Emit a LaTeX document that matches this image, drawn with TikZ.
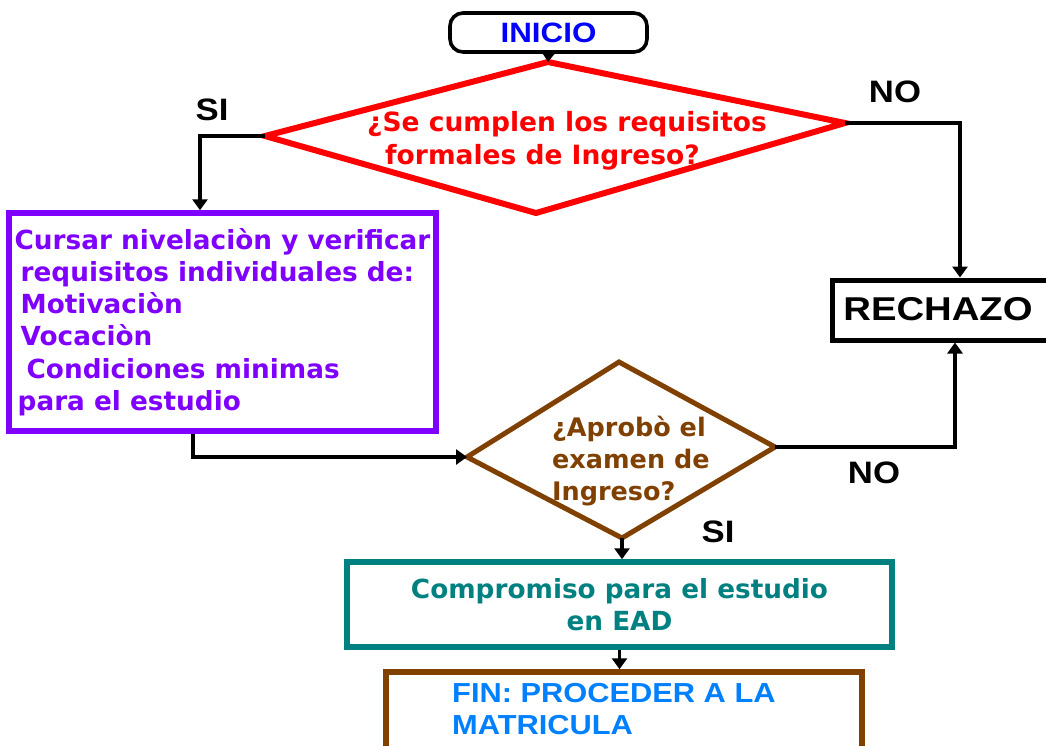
\documentclass[tikz,border=0pt]{standalone}
\usepackage{fontspec}
\setmainfont{Liberation Sans}
\newfontfamily\vfont{DejaVu Sans}
\newfontfamily\awide[FakeStretch=1.12]{Liberation Sans}
\newfontfamily\awider[FakeStretch=1.16]{Liberation Sans}
\usetikzlibrary{arrows.meta}
\definecolor{cred}{HTML}{FF0000}
\definecolor{cpurple}{HTML}{8000FF}
\definecolor{cteal}{HTML}{008080}
\definecolor{cbrown}{HTML}{804000}
\definecolor{cblue}{HTML}{0000FF}
\definecolor{clblue}{HTML}{0080FF}
\begin{document}
\begin{tikzpicture}[x=1pt,y=-1pt,
  arr/.style={line width=3.3pt,-{Triangle[width=15pt,length=11pt]}},
  lbl/.style={font=\awide\bfseries\fontsize{31}{33}\selectfont,inner sep=0pt},
  vtext/.style={font=\vfont\bfseries\fontsize{25.5}{32}\selectfont,inner sep=0pt}]
\clip (0,0) rectangle (1046,745);
\fill[white] (0,0) rectangle (1046,745);
% start
\node[draw,line width=3.6pt,rounded corners=13pt,minimum width=197pt,minimum height=39pt,
      text=cblue,font=\awide\bfseries\fontsize{28}{30}\selectfont] (inicio) at (548.5,32.5) {INICIO};
% diamond 1
\coordinate (d1t) at (548,62);
\coordinate (d1l) at (265,136);
\coordinate (d1b) at (536,213);
\coordinate (d1r) at (845,123);
\draw[cred,line width=6pt,line join=miter] (d1t) -- (d1r) -- (d1b) -- (d1l) -- cycle;
\node[vtext,text=cred,align=left,font=\vfont\bfseries\fontsize{26.5}{33}\selectfont,anchor=west] (q1) at (367,141)
  {¿Se cumplen los requisitos\\\hspace*{18pt}formales de Ingreso?};
% purple box
\node[draw=cpurple,line width=5.5pt,minimum width=427pt,minimum height=218pt,inner xsep=0pt,
      align=left,text=cpurple,font=\vfont\bfseries\fontsize{26.3}{32.3}\selectfont]
  (nivel) at (222.5,322)
  {Cursar nivelaciòn y verificar\\
   \hspace*{6pt}requisitos individuales de:\\
   \hspace*{6pt}Motivaciòn\\
   \hspace*{6pt}Vocaciòn\\
   \hspace*{12pt}Condiciones minimas\\
   \hspace*{3pt}para el estudio};
% rechazo
\node[draw,line width=5pt,minimum width=240pt,minimum height=60pt] (rech) at (952,310) {};
\node[lbl,font=\awider\bfseries\fontsize{33}{35}\selectfont] (rechT) at (938,309) {RECHAZO};
% diamond 2
\coordinate (d2t) at (619,362);
\coordinate (d2l) at (467,457);
\coordinate (d2b) at (622,538);
\coordinate (d2r) at (775,447);
\draw[cbrown,line width=5pt,line join=miter] (d2t) -- (d2r) -- (d2b) -- (d2l) -- cycle;
\node[vtext,text=cbrown,align=left,anchor=west] (q2) at (552,461)
  {¿Aprobò el\\examen de\\Ingreso?};
% compromiso
\node[draw=cteal,line width=5.5pt,minimum width=545pt,minimum height=85pt,align=center,
      text=cteal,font=\vfont\bfseries\fontsize{26.3}{32}\selectfont] (comp) at (619.5,604.5)
  {Compromiso para el estudio\\en EAD};
% fin
\node[draw=cbrown,line width=5.5pt,minimum width=476pt,minimum height=100pt] (fin) at (624,722) {};
\node[anchor=west,align=left,inner sep=0pt,text=clblue,font=\awide\bfseries\fontsize{27.5}{32}\selectfont]
  (finT) at (452,709) {FIN: PROCEDER A LA\\MATRICULA};
% labels
\node[lbl] (si1) at (212,110) {SI};
\node[lbl] (no1) at (895,92) {NO};
\node[lbl] (no2) at (874,473) {NO};
\node[lbl] (si2) at (718,532) {SI};
% connectors
\draw[arr] (inicio.south) -- (d1t);
\draw[arr] (d1l) -| ([xshift=-22.5pt]nivel.north);
\draw[arr] (d1r) -| ([xshift=8pt]rech.north);
\draw[arr] ([xshift=-29.5pt]nivel.south) |- (d2l);
\draw[arr] (d2r) -| ([xshift=3pt]rech.south);
\draw[arr] (d2b) -- (d2b |- comp.north);
\draw[arr] (comp.south) -- (comp.south |- fin.north);
\end{tikzpicture}
\end{document}
